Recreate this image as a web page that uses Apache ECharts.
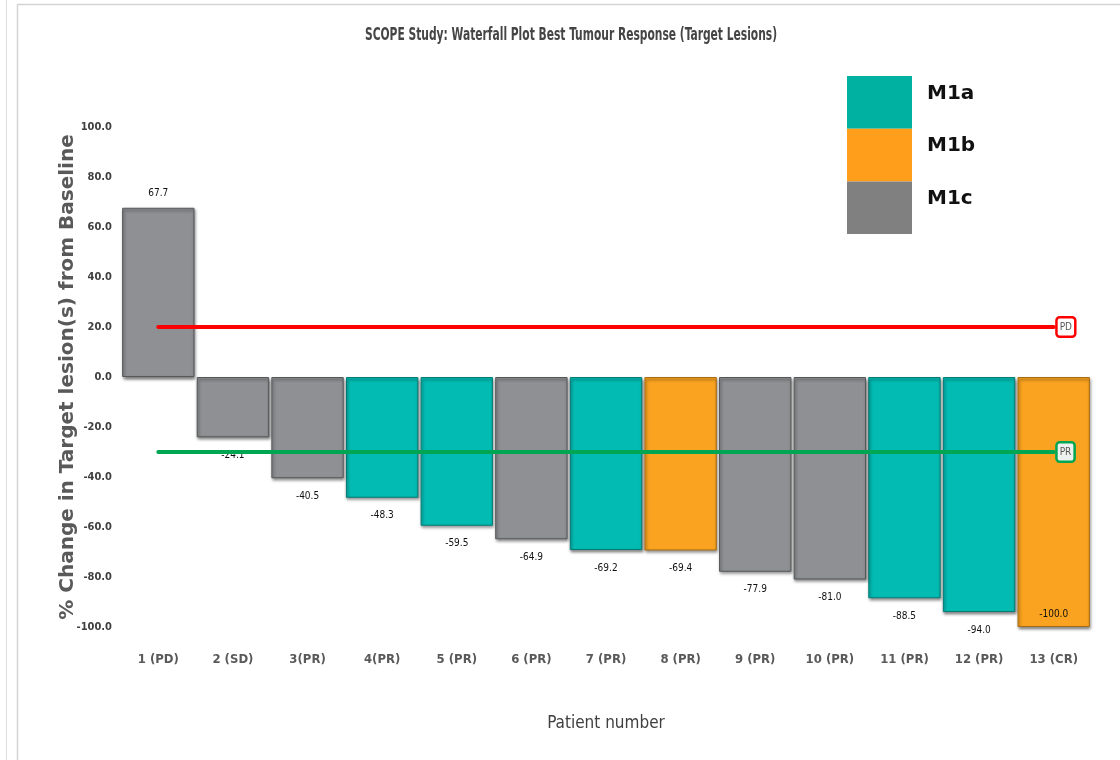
<!DOCTYPE html>
<html>
<head>
<meta charset="utf-8">
<script src="https://cdn.jsdelivr.net/npm/echarts@6/dist/echarts.min.js"></script>
<style>
  html, body { margin: 0; padding: 0; background: #ffffff; }
  #chart { width: 1120px; height: 760px; }
</style>
</head>
<body>
<div id="chart"></div>
<script>
// Patients ordered by best response (waterfall)
const categories = ['1 (PD)', '2 (SD)', '3(PR)', '4(PR)', '5 (PR)', '6 (PR)', '7 (PR)',
                    '8 (PR)', '9 (PR)', '10 (PR)', '11 (PR)', '12 (PR)', '13 (CR)'];
// Best % change in target lesions from baseline
const changes = [67.7, -24.1, -40.5, -48.3, -59.5, -64.9, -69.2, -69.4, -77.9, -81.0, -88.5, -94.0, -100.0];
// M stage of each patient
const stages = ['M1c', 'M1c', 'M1c', 'M1a', 'M1a', 'M1c', 'M1a', 'M1b', 'M1c', 'M1c', 'M1a', 'M1a', 'M1b'];
const stageNames = ['M1a', 'M1b', 'M1c'];
// RECIST thresholds
const pdThreshold = 20;
const prThreshold = -30;
// Y axis range / ticks
const yMin = -100, yMax = 100, yStep = 20;

const barColors   = { M1a: '#02BCB3', M1b: '#F9A320', M1c: '#8E9093' };
const barEdges    = { M1a: '#067d77', M1b: '#a86c12', M1c: '#56585a' };
const legendColors = { M1a: '#00B0A0', M1b: '#FF9E1B', M1c: '#808080' };

const narrow = "'Liberation Sans Narrow', 'DejaVu Sans Condensed', 'Arial Narrow', sans-serif";

function stageData(name) {
  return changes.map((v, i) => {
    if (stages[i] !== name) return '-';
    // labels sit beyond the bar end, except where the bar reaches the axis floor
    let position = v >= 0 ? 'top' : 'bottom';
    let distance = v >= 0 ? 9 : 13;
    if (v <= yMin) { position = 'insideBottom'; distance = 8; }
    return { value: v, label: { position, distance } };
  });
}

const barSeries = stageNames.map(name => ({
  name,
  type: 'bar',
  stack: 'resp',
  barCategoryGap: '3%',
  data: stageData(name),
  itemStyle: {
    color: barColors[name],
    borderColor: barEdges[name],
    borderWidth: 1,
    shadowColor: 'rgba(0,0,0,0.5)',
    shadowBlur: 3,
    shadowOffsetX: 1,
    shadowOffsetY: 2
  },
  label: {
    show: true,
    formatter: p => Number(p.value).toFixed(1),
    fontFamily: narrow,
    fontSize: 10,
    color: '#111111'
  }
}));

const thresholdSeries = {
  name: 'thresholds',
  type: 'line',
  data: [],
  z: 10,
  markLine: {
    silent: true,
    symbol: 'none',
    data: [
      [
        { coord: [categories[0], pdThreshold],
          lineStyle: { color: '#FF0000', width: 4, type: 'solid', cap: 'round' },
          label: { formatter: 'PD', borderColor: '#FF0000', backgroundColor: '#ffffff' } },
        { coord: [categories[categories.length - 1], pdThreshold] }
      ],
      [
        { coord: [categories[0], prThreshold],
          lineStyle: { color: '#00A651', width: 4, type: 'solid', cap: 'round' },
          label: { formatter: 'PR', borderColor: '#00A651', backgroundColor: '#eef2ef' } },
        { coord: [categories[categories.length - 1], prThreshold] }
      ]
    ],
    label: {
      show: true,
      position: 'end',
      distance: 4,
      fontFamily: narrow,
      fontSize: 10,
      color: '#555555',
      borderWidth: 2.5,
      borderRadius: 2,
      padding: [4, 2, 3, 2]
    }
  }
};

const chart = echarts.init(document.getElementById('chart'), null, { renderer: 'canvas' });
chart.setOption({
  animation: false,
  backgroundColor: '#ffffff',
  graphic: [
    { type: 'line', shape: { x1: 6.5, y1: 0, x2: 6.5, y2: 760 }, style: { stroke: '#dcdcdc', lineWidth: 1 } },
    { type: 'rect', shape: { x: 17.5, y: 4.5, width: 1200, height: 800 }, style: { fill: 'none', stroke: '#d4d4d4', lineWidth: 1.5 } },
    { type: 'text', x: 571, y: 36, scaleX: 0.7,
      style: { text: 'SCOPE Study: Waterfall Plot Best Tumour Response (Target Lesions)',
               font: 'bold 17px ' + narrow, fill: '#454545', align: 'center', verticalAlign: 'middle' } }
  ],
  legend: {
    orient: 'vertical',
    left: 847,
    top: 76,
    padding: 0,
    itemWidth: 65,
    itemHeight: 52.7,
    itemGap: 0,
    icon: 'rect',
    selectedMode: false,
    data: stageNames.map(n => ({ name: n, itemStyle: { color: legendColors[n], borderWidth: 0, shadowBlur: 0, shadowOffsetX: 0, shadowOffsetY: 0 } })),
    formatter: name => '{t|' + name + '}\n{gap|}',
    textStyle: {
      fontFamily: 'DejaVu Sans',
      fontWeight: 'bold',
      fontSize: 20,
      color: '#111111',
      rich: {
        t: { fontFamily: 'DejaVu Sans', fontWeight: 'bold', fontSize: 20, color: '#111111', lineHeight: 22, padding: [0, 0, 0, 10] },
        gap: { height: 18, lineHeight: 18 }
      }
    }
  },
  grid: { left: 121, right: 29, top: 127, bottom: 133 },
  xAxis: {
    type: 'category',
    data: categories,
    position: 'bottom',
    axisLine: { show: false },
    axisTick: { show: false },
    axisLabel: { margin: 26, fontFamily: narrow, fontSize: 13, fontWeight: 'bold', color: '#595959', interval: 0 },
    name: 'Patient number',
    nameLocation: 'middle',
    nameGap: 88,
    nameTextStyle: { fontFamily: narrow, fontSize: 17, color: '#404040' }
  },
  yAxis: {
    type: 'value',
    min: yMin,
    max: yMax,
    interval: yStep,
    splitLine: { show: false },
    axisLine: { show: false },
    axisTick: { show: false },
    axisLabel: { margin: 9, fontFamily: narrow, fontSize: 11, fontWeight: 'bold', color: '#404040',
                 formatter: v => v.toFixed(1) },
    name: '% Change in Target lesion(s) from Baseline',
    nameLocation: 'middle',
    nameMoveOverlap: false,
    nameGap: 43,
    nameTextStyle: { fontFamily: 'DejaVu Sans', fontWeight: 'bold', fontSize: 20, color: '#595959' }
  },
  series: [...barSeries, thresholdSeries]
});
</script>
</body>
</html>
